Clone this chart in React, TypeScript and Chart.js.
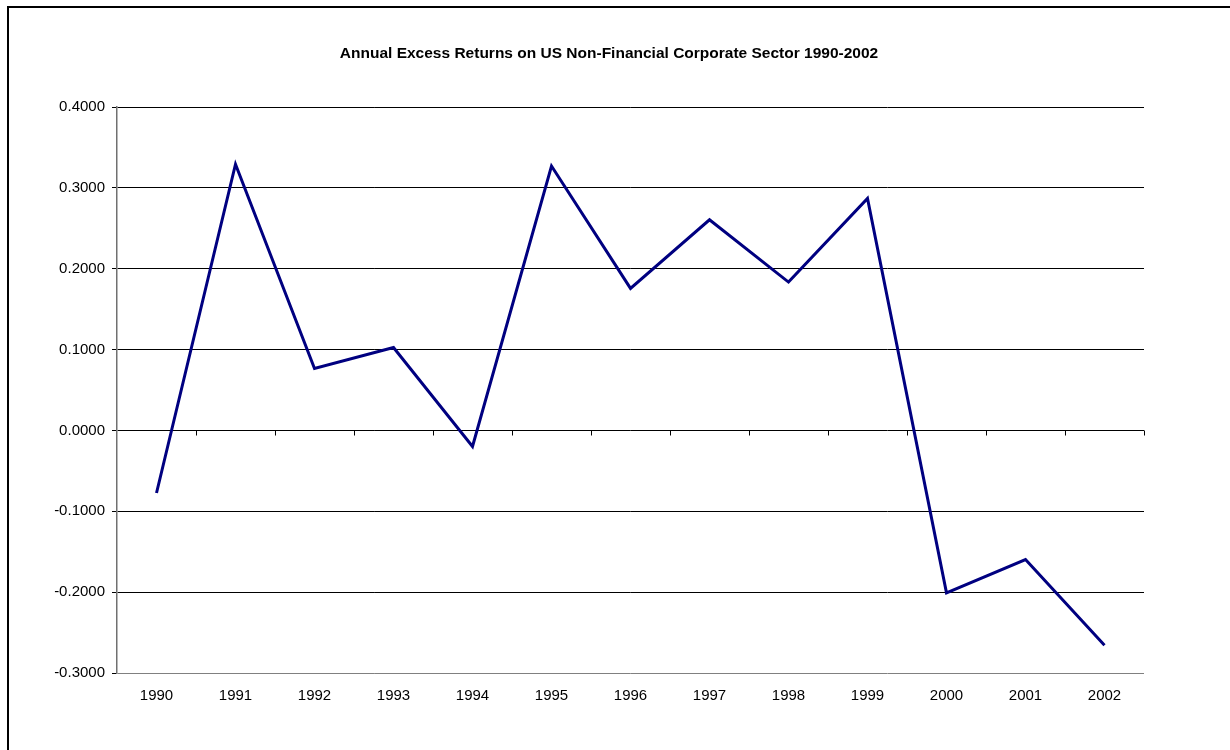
import React, { useEffect, useRef } from "react";
import { Chart, registerables } from "chart.js";

Chart.register(...registerables);

const chartTitle = "Annual Excess Returns on US Non-Financial Corporate Sector 1990-2002";
const years = ["1990", "1991", "1992", "1993", "1994", "1995", "1996", "1997", "1998", "1999", "2000", "2001", "2002"];
const excessReturns = [-0.0774, 0.3293, 0.0765, 0.1025, -0.0198, 0.327, 0.1757, 0.2605, 0.1835, 0.287, -0.2008, -0.1597, -0.2658];
const yMin = -0.3;
const yMax = 0.4;
const yStep = 0.1;

const FONT = "Arial, 'Liberation Sans', sans-serif";

const excelPlugin = {
  id: "excelDecor",
  afterDatasetsDraw(chart: any) {
    const ctx = chart.ctx;
    const x = chart.scales.x;
    const y = chart.scales.y;
    const y0 = Math.round(y.getPixelForValue(0)) + 0.5;
    ctx.save();
    ctx.strokeStyle = "#000000";
    ctx.lineWidth = 1;
    ctx.beginPath();
    for (let i = 1; i <= years.length; i++) {
      const px = i < years.length
        ? (x.getPixelForValue(i - 1) + x.getPixelForValue(i)) / 2
        : chart.chartArea.right;
      const rx = Math.round(px) + 0.5;
      ctx.moveTo(rx, y0);
      ctx.lineTo(rx, y0 + 5);
    }
    ctx.stroke();
    ctx.restore();
  },
  afterDraw(chart: any) {
    const ctx = chart.ctx;
    ctx.save();
    ctx.fillStyle = "#000000";
    ctx.font = "bold 15.5px " + FONT;
    ctx.textAlign = "center";
    ctx.textBaseline = "middle";
    ctx.fillText(chartTitle, 609, 54);
    ctx.restore();
  },
};

export default function App() {
  const ref = useRef<HTMLCanvasElement | null>(null);
  useEffect(() => {
    if (!ref.current) return;
    const chart = new Chart(ref.current, {
      type: "line",
      data: {
        labels: years,
        datasets: [
          {
            data: excessReturns,
            borderColor: "#000080",
            borderWidth: 3,
            pointRadius: 0,
            tension: 0,
            fill: false,
          },
        ],
      },
      options: {
        animation: false,
        responsive: false,
        layout: { padding: { left: 0, right: 86, top: 107, bottom: 0 } },
        plugins: { legend: { display: false }, tooltip: { enabled: false }, title: { display: false } },
        scales: {
          x: {
            offset: true,
            grid: { display: false, drawTicks: false },
            border: { display: false },
            ticks: { color: "#000000", font: { family: FONT, size: 15 }, padding: 14, maxRotation: 0, autoSkip: false },
            afterFit: (s: any) => { s.height = 77; },
          },
          y: {
            min: yMin,
            max: yMax,
            ticks: {
              stepSize: yStep,
              color: "#000000",
              font: { family: FONT, size: 15 },
              padding: 7,
              callback: (v: any) => Number(v).toFixed(4),
            },
            grid: {
              color: (c: any) => (c.tick && Math.abs(c.tick.value - yMin) < 1e-9 ? "#808080" : "#000000"),
              lineWidth: 1,
              tickLength: 5,
              tickColor: "#000000",
            },
            border: { color: "#707070", width: 1.5 },
            afterFit: (s: any) => { s.width = 117; },
          },
        },
      },
      plugins: [excelPlugin],
    });
    return () => chart.destroy();
  }, []);
  return (
    <div style={{ position: "fixed", left: 0, top: 0, width: 1230, height: 750, background: "#fff", overflow: "hidden" }}>
      <canvas ref={ref} width={1230} height={750} style={{ position: "absolute", left: 0, top: 0 }} />
      <div style={{ position: "absolute", left: 7, top: 6, width: 1400, height: 900, borderLeft: "2px solid #000", borderTop: "2px solid #000", pointerEvents: "none" }} />
    </div>
  );
}
